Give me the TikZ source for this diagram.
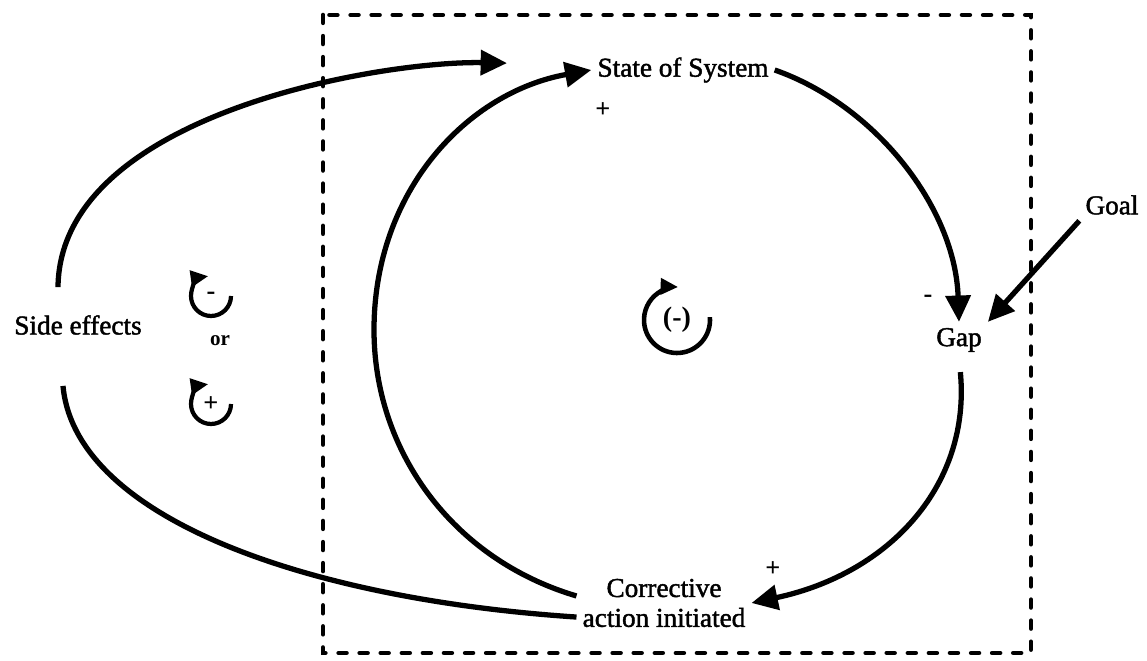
\documentclass[tikz,border=0pt]{standalone}
\usepackage{fontspec}
\setmainfont{Liberation Serif}
\newfontfamily\scanfont[FakeBold=1.6]{Liberation Serif}
\usetikzlibrary{arrows.meta}

\begin{document}
\begin{tikzpicture}[x=0.02cm,y=-0.02cm,
    every node/.style={font=\scanfont\fontsize{15.5}{17}\selectfont},
    link/.style={line width=3pt,-{Triangle[length=15pt,width=14pt]}},
    plain/.style={line width=3pt},
    loopsign/.style={line width=2.4pt,-{Triangle[length=10pt,width=9pt]}},
    sign/.style={font=\fontsize{15}{15}\selectfont\bfseries}]
    \useasboundingbox (0,0) rectangle (1147,661);
    \draw[line width=2.6pt,line cap=round,dash pattern=on 4.5pt off 7.5pt] (323,15) rectangle (1031,653);
    \node (state) at (683,70) {State of System};
    \node (gap) at (959,340) {Gap};
    \node (goal) at (1112,205) {Goal};
    \node[align=center] (corr) at (664,603) {Corrective\\action initiated};
    \node (side) at (78,325) {Side effects};
    \coordinate (bend) at (374,330);
    \draw[link] (state.east) .. controls +(100,35) and +(-4,-115) .. (gap.north);
    \draw[link] (goal.south west) -- (gap.north east);
    \draw[link,shorten <=8pt] (gap.south) .. controls +(12,125) and +(140,-30) .. (corr.east);
    \draw[link] ([yshift=4pt]corr.west) .. controls +(-125,-37) and +(0,120) .. (bend)
        .. controls +(0,-140) and +(-123,22) .. (state.west);
    \draw[link,shorten >=48pt] ([shift={(-20,-22)}]side.north) .. controls +(2,-173) and +(-210,-4) .. ([yshift=3pt]state.west);
    \draw[plain] ([shift={(-15,45)}]side.south) .. controls +(12,131) and +(-272,-18) .. ([yshift=-8pt]corr.west);
    \node[sign] (plusstate) at (603,110) {+};
    \node[sign] (minusgap) at (928,299) {-};
    \node[sign] (pluscorr) at (773,569) {+};
    \node[font=\fontsize{16}{16}\selectfont\bfseries] (mainloop) at (677,320) {(-)};
    \draw[loopsign,line width=2.6pt] (mainloop.center) ++(-5:33) arc[start angle=-5,end angle=272,radius=33];
    \node[sign] (negsign) at (211,296) {-};
    \draw[loopsign] (negsign.center) ++(0:20) arc[start angle=0,end angle=262,radius=20];
    \node[font=\fontsize{12}{12}\selectfont\bfseries] (orword) at (220,341) {or};
    \node[sign] (possign) at (211,404) {+};
    \draw[loopsign] (possign.center) ++(0:20) arc[start angle=0,end angle=262,radius=20];
\end{tikzpicture}
\end{document}
